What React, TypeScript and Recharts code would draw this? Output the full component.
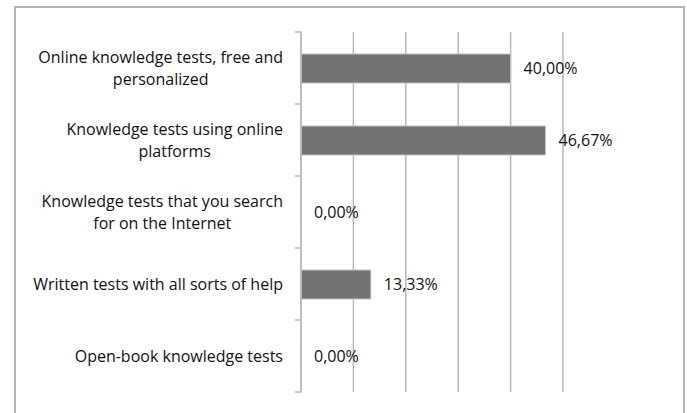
import { BarChart, Bar, XAxis, YAxis, CartesianGrid, LabelList } from 'recharts';

const CATEGORIES = [
  'Online knowledge tests, free and\npersonalized',
  'Knowledge tests using online\nplatforms',
  'Knowledge tests that you search\nfor on the Internet',
  'Written tests with all sorts of help',
  'Open-book knowledge tests',
];
const VALUES = [40.0, 46.67, 0.0, 13.33, 0.0];
const X_TICKS = [0, 10, 20, 30, 40, 50];

const FONT = '"Open Sans", sans-serif';
const FONT_SIZE = 16;
const LINE_GAP = 21.5;
const GRID = '#b8b8b8';
const TICK_MARGIN = 18;

const data = CATEGORIES.map((name, i) => ({ name, value: VALUES[i] }));

let ctx: CanvasRenderingContext2D | null = null;
function measure(text: string): number {
  if (!ctx) ctx = document.createElement('canvas').getContext('2d');
  if (!ctx) return text.length * 7;
  ctx.font = `${FONT_SIZE}px "Open Sans"`;
  return ctx.measureText(text).width;
}

// category label, centred lines in a right-aligned block, plus the
// small tick marks that sit on the band edges like in Excel
function CategoryTick(props: any) {
  const { x, y, payload, index, height, visibleTicksCount } = props;
  const lines = String(payload.value).split('\n');
  const w = Math.max(...lines.map(measure));
  const cx = x - w / 2;
  const top = y - ((lines.length - 1) * LINE_GAP) / 2;
  const axisX = x + TICK_MARGIN;
  const half = height / visibleTicksCount / 2;
  const edges = index === visibleTicksCount - 1 ? [y - half, y + half] : [y - half];
  return (
    <g>
      {edges.map((ey, i) => (
        <line key={'e' + i} x1={axisX - 6} x2={axisX} y1={ey} y2={ey} stroke={GRID} strokeWidth={1.5} />
      ))}
      {lines.map((l, i) => (
        <text
          key={i}
          x={cx}
          y={top + i * LINE_GAP}
          textAnchor="middle"
          dominantBaseline="central"
          fontFamily={FONT}
          fontSize={FONT_SIZE}
          fill="#111"
        >
          {l}
        </text>
      ))}
    </g>
  );
}

const fmt = (v: any) => Number(v).toFixed(2).replace('.', ',') + '%';

export default function App() {
  return (
    <div style={{ position: 'absolute', left: 0, top: 0, width: 687, height: 413, background: '#fff' }}>
      <div
        style={{
          position: 'absolute',
          left: 14,
          top: 6,
          width: 667,
          height: 420,
          border: '2px solid #b3b3b3',
        }}
      />
      <div style={{ position: 'absolute', left: 0, top: 0 }}>
        <BarChart
          width={687}
          height={413}
          data={data}
          layout="vertical"
          barSize={29}
          margin={{ top: 32, right: 124, bottom: 21, left: 16 }}
        >
          <CartesianGrid horizontal={false} stroke={GRID} strokeWidth={1.5} />
          <XAxis type="number" domain={[0, 50]} ticks={X_TICKS} hide />
          <YAxis
            type="category"
            dataKey="name"
            width={285}
            tickLine={false}
            tickSize={0}
            tickMargin={TICK_MARGIN}
            axisLine={{ stroke: GRID, strokeWidth: 1.5 }}
            tick={<CategoryTick />}
            interval={0}
          />
          <Bar
            dataKey="value"
            fill="#737373"
            stroke="#c2c2c2"
            strokeWidth={1}
            minPointSize={0.01}
            isAnimationActive={false}
          >
            <LabelList
              dataKey="value"
              position="right"
              offset={13}
              formatter={fmt}
              fontFamily={FONT}
              fontSize={16}
              fill="#111"
            />
          </Bar>
        </BarChart>
      </div>
    </div>
  );
}
